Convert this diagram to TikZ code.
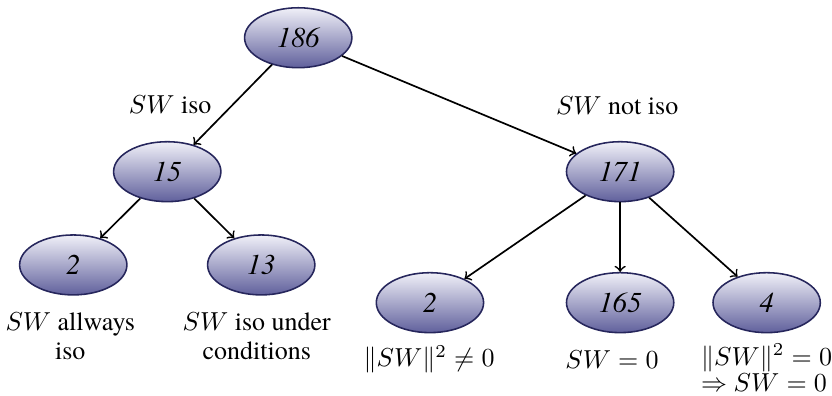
\documentclass[tikz,border=0pt]{standalone}
\usepackage{fontspec}
\setmainfont{texgyretermes}[Extension=.otf, UprightFont=*-regular, ItalicFont=*-italic,
	BoldFont=*-bold, BoldItalicFont=*-bolditalic]
\usepackage{tikz}
\usetikzlibrary{shapes.geometric}

\definecolor{nodebottom}{RGB}{96,96,156}
\definecolor{nodetop}{RGB}{240,240,248}
\definecolor{nodeline}{RGB}{38,38,92}

\begin{document}
\begin{tikzpicture}[
		count/.style={ellipse, draw=nodeline, line width=0.6pt, top color=nodetop, bottom color=nodebottom,
			minimum width=1.45cm, minimum height=0.81cm, inner sep=0pt, font=\itshape\fontsize{11}{13}\selectfont},
		branch/.style={->, line width=0.65pt},
		caption/.style={inner sep=1pt, align=center}
	]
		%%%%% START %%%%%
		
		\useasboundingbox (0, 0) rectangle (11.243, -5.338);
		
		% the counts
		\node[count] (all) at (4.03, -0.51) {186};
		\node[count] (iso) at (2.26, -2.32) {15};
		\node[count] (noniso) at (8.38, -2.32) {171};
		
		\node[count] (always) at (0.99, -3.58) {2};
		\node[count] (cond) at (3.53, -3.58) {13};
		
		\node[count] (nonzero) at (5.81, -4.09) {2};
		\node[count] (zero) at (8.38, -4.09) {165};
		\node[count] (normzero) at (10.36, -4.09) {4};
		
		% splits
		\draw[branch] (all) -- (iso);
		\draw[branch] (all) -- (noniso);
		\draw[branch] (iso) -- (always);
		\draw[branch] (iso) -- (cond);
		\draw[branch] (noniso) -- (nonzero);
		\draw[branch] (noniso) -- (zero);
		\draw[branch] (noniso) -- (normzero);
		
		% what each split means
		\node[caption] (isotext) at (2.30, -1.41) {$SW$ iso};
		\node[caption] (nonisotext) at (8.34, -1.43) {$SW$ not iso};
		
		\node[caption] (alwaystext) at (0.95, -4.54) {$SW$ allways\\[-1pt]iso};
		\node[caption] (condtext) at (3.47, -4.54) {$SW$ iso under\\[-1pt]conditions};
		
		\node[caption] (nonzerotext) at (5.80, -4.86) {$\|SW\|^2\neq 0$};
		\node[caption] (zerotext) at (8.27, -4.86) {$SW=0$};
		\node[caption, align=left, inner sep=0pt] (normzerotext) at (10.36, -4.97) {$\|SW\|^2=0$\\[-2pt]$\Rightarrow$ $SW=0$};
		
		%%%%% END %%%%%
	\end{tikzpicture}
\end{document}
